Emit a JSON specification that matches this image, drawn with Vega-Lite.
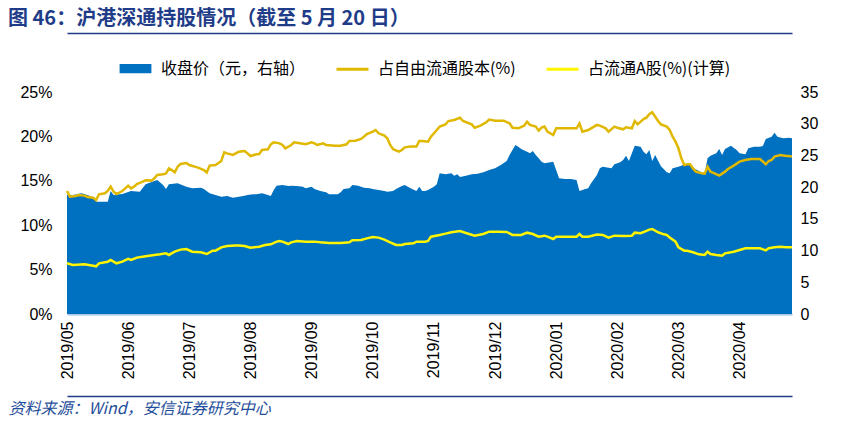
{
  "$schema": "https://vega.github.io/schema/vega-lite/v6.json",
  "width": 725,
  "height": 222,
  "autosize": {"type": "none"},
  "padding": {"left": 67, "top": 92, "right": 51, "bottom": 108},
  "background": "white",
  "title": {
    "text": "图 46：沪港深通持股情况（截至 5 月 20 日）",
    "anchor": "start",
    "frame": "group",
    "dx": -59,
    "font": "Noto Sans CJK SC",
    "fontSize": 20,
    "fontWeight": "bold",
    "color": "#1F3C88"
  },
  "config": {
    "view": {"stroke": null},
    "axis": {"grid": false, "ticks": false, "labelFont": "Liberation Sans", "labelFontSize": 16, "labelColor": "#000000"}
  },
  "datasets": {
    "price": [
      {"day":0,"v":18.76},{"day":2,"v":18.76},{"day":5,"v":19.02},{"day":7,"v":18.76},{"day":9,"v":18.39},{"day":10,"v":17.71},{"day":14,"v":17.71},{"day":15,"v":19.39},{"day":16,"v":18.76},{"day":19,"v":18.92},{"day":22,"v":19.39},{"day":25,"v":19.29},{"day":27,"v":20.44},{"day":30,"v":20.97},{"day":31,"v":21.13},{"day":33,"v":20.34},{"day":34,"v":19.71},{"day":35,"v":20.44},{"day":38,"v":20.60},{"day":41,"v":20.07},{"day":43,"v":19.81},{"day":46,"v":19.92},{"day":47,"v":19.71},{"day":49,"v":19.02},{"day":51,"v":18.76},{"day":53,"v":18.50},{"day":55,"v":18.60},{"day":57,"v":18.34},{"day":59,"v":18.50},{"day":61,"v":18.66},{"day":62,"v":18.76},{"day":64,"v":18.86},{"day":65,"v":18.86},{"day":67,"v":19.02},{"day":69,"v":18.76},{"day":70,"v":18.60},{"day":71,"v":19.55},{"day":72,"v":20.23},{"day":74,"v":20.34},{"day":76,"v":20.18},{"day":77,"v":20.23},{"day":79,"v":20.18},{"day":81,"v":20.07},{"day":82,"v":19.81},{"day":84,"v":20.07},{"day":85,"v":19.71},{"day":87,"v":19.39},{"day":89,"v":19.18},{"day":90,"v":18.86},{"day":93,"v":18.86},{"day":94,"v":19.18},{"day":95,"v":19.71},{"day":97,"v":19.81},{"day":98,"v":20.34},{"day":100,"v":20.23},{"day":102,"v":19.92},{"day":104,"v":19.81},{"day":105,"v":19.71},{"day":107,"v":19.55},{"day":109,"v":19.39},{"day":110,"v":19.29},{"day":112,"v":19.39},{"day":113,"v":19.71},{"day":115,"v":20.18},{"day":116,"v":20.34},{"day":118,"v":19.81},{"day":120,"v":19.39},{"day":121,"v":20.07},{"day":122,"v":19.39},{"day":123,"v":19.39},{"day":124,"v":19.55},{"day":126,"v":20.07},{"day":127,"v":20.44},{"day":128,"v":22.18},{"day":130,"v":22.02},{"day":132,"v":22.18},{"day":133,"v":21.81},{"day":134,"v":22.02},{"day":135,"v":21.60},{"day":137,"v":21.81},{"day":139,"v":22.02},{"day":141,"v":22.12},{"day":143,"v":22.34},{"day":145,"v":22.70},{"day":147,"v":22.96},{"day":149,"v":23.49},{"day":151,"v":24.12},{"day":152,"v":25.06},{"day":154,"v":26.64},{"day":155,"v":26.38},{"day":156,"v":26.01},{"day":158,"v":25.59},{"day":159,"v":25.33},{"day":160,"v":25.70},{"day":161,"v":25.06},{"day":162,"v":24.54},{"day":163,"v":24.01},{"day":164,"v":23.75},{"day":167,"v":24.01},{"day":168,"v":22.70},{"day":169,"v":21.39},{"day":171,"v":21.28},{"day":173,"v":21.28},{"day":175,"v":21.13},{"day":176,"v":19.39},{"day":178,"v":19.71},{"day":179,"v":19.81},{"day":180,"v":20.60},{"day":182,"v":21.91},{"day":183,"v":22.96},{"day":184,"v":23.23},{"day":186,"v":23.07},{"day":187,"v":22.96},{"day":188,"v":23.60},{"day":190,"v":23.91},{"day":191,"v":24.28},{"day":192,"v":24.96},{"day":193,"v":24.12},{"day":194,"v":25.33},{"day":195,"v":26.54},{"day":197,"v":26.38},{"day":198,"v":25.59},{"day":199,"v":25.17},{"day":200,"v":25.86},{"day":201,"v":24.12},{"day":202,"v":25.06},{"day":204,"v":23.30},{"day":206,"v":22.34},{"day":207,"v":22.18},{"day":208,"v":22.96},{"day":210,"v":23.23},{"day":211,"v":23.39},{"day":212,"v":23.60},{"day":214,"v":23.75},{"day":215,"v":23.07},{"day":217,"v":22.55},{"day":218,"v":22.34},{"day":219,"v":22.18},{"day":220,"v":24.54},{"day":221,"v":24.96},{"day":223,"v":25.33},{"day":224,"v":26.01},{"day":225,"v":25.06},{"day":226,"v":26.01},{"day":228,"v":26.54},{"day":230,"v":25.86},{"day":231,"v":25.33},{"day":233,"v":25.17},{"day":234,"v":26.12},{"day":236,"v":26.38},{"day":238,"v":26.38},{"day":239,"v":26.49},{"day":240,"v":27.59},{"day":242,"v":27.95},{"day":243,"v":28.59},{"day":244,"v":27.95},{"day":246,"v":27.70},{"day":248,"v":27.80},{"day":249,"v":27.70}
    ],
    "free": [
      {"day":0,"v":13.85},{"day":1,"v":13.21},{"day":3,"v":13.29},{"day":4,"v":13.40},{"day":6,"v":13.33},{"day":7,"v":13.18},{"day":9,"v":13.10},{"day":10,"v":12.84},{"day":11,"v":13.48},{"day":13,"v":13.59},{"day":14,"v":13.85},{"day":15,"v":14.34},{"day":16,"v":13.78},{"day":17,"v":13.51},{"day":19,"v":13.85},{"day":20,"v":14.15},{"day":21,"v":14.45},{"day":22,"v":14.15},{"day":23,"v":14.34},{"day":24,"v":14.64},{"day":26,"v":14.90},{"day":27,"v":15.05},{"day":29,"v":15.02},{"day":30,"v":15.28},{"day":31,"v":15.65},{"day":33,"v":15.73},{"day":34,"v":15.84},{"day":35,"v":16.40},{"day":36,"v":16.22},{"day":37,"v":15.95},{"day":38,"v":16.59},{"day":39,"v":16.89},{"day":41,"v":17.00},{"day":42,"v":16.78},{"day":45,"v":16.48},{"day":47,"v":16.22},{"day":48,"v":15.95},{"day":49,"v":16.71},{"day":51,"v":16.78},{"day":53,"v":17.23},{"day":54,"v":18.21},{"day":55,"v":18.09},{"day":57,"v":17.91},{"day":59,"v":18.28},{"day":61,"v":18.36},{"day":62,"v":18.09},{"day":63,"v":17.79},{"day":65,"v":17.98},{"day":66,"v":18.02},{"day":67,"v":18.47},{"day":69,"v":18.55},{"day":70,"v":19.11},{"day":71,"v":19.33},{"day":73,"v":19.22},{"day":74,"v":19.03},{"day":75,"v":18.66},{"day":77,"v":19.03},{"day":78,"v":19.33},{"day":80,"v":19.22},{"day":82,"v":19.11},{"day":84,"v":19.33},{"day":85,"v":19.22},{"day":86,"v":19.03},{"day":88,"v":19.22},{"day":89,"v":19.03},{"day":92,"v":18.96},{"day":94,"v":18.96},{"day":96,"v":19.11},{"day":97,"v":19.48},{"day":99,"v":19.52},{"day":101,"v":19.71},{"day":102,"v":19.97},{"day":103,"v":20.27},{"day":105,"v":20.53},{"day":106,"v":20.72},{"day":107,"v":20.35},{"day":109,"v":20.08},{"day":110,"v":19.78},{"day":111,"v":19.03},{"day":112,"v":18.55},{"day":114,"v":18.28},{"day":115,"v":18.47},{"day":116,"v":18.77},{"day":118,"v":18.85},{"day":120,"v":18.85},{"day":121,"v":19.48},{"day":122,"v":19.48},{"day":124,"v":19.41},{"day":125,"v":19.97},{"day":127,"v":20.72},{"day":128,"v":21.10},{"day":130,"v":21.36},{"day":131,"v":21.73},{"day":133,"v":21.85},{"day":135,"v":22.11},{"day":136,"v":21.73},{"day":139,"v":21.36},{"day":140,"v":20.98},{"day":142,"v":21.21},{"day":144,"v":21.59},{"day":145,"v":21.89},{"day":147,"v":21.77},{"day":150,"v":21.77},{"day":152,"v":21.47},{"day":153,"v":20.98},{"day":155,"v":20.91},{"day":157,"v":21.21},{"day":158,"v":21.66},{"day":159,"v":21.29},{"day":161,"v":21.10},{"day":162,"v":20.65},{"day":163,"v":20.98},{"day":164,"v":21.10},{"day":165,"v":20.53},{"day":167,"v":20.16},{"day":168,"v":20.91},{"day":171,"v":20.91},{"day":173,"v":20.91},{"day":175,"v":20.91},{"day":176,"v":21.47},{"day":177,"v":20.53},{"day":179,"v":20.72},{"day":180,"v":20.91},{"day":182,"v":21.29},{"day":183,"v":21.21},{"day":185,"v":20.91},{"day":186,"v":20.53},{"day":188,"v":21.10},{"day":189,"v":20.98},{"day":191,"v":20.80},{"day":192,"v":21.02},{"day":194,"v":20.91},{"day":195,"v":21.73},{"day":196,"v":21.36},{"day":198,"v":21.96},{"day":199,"v":22.11},{"day":200,"v":22.49},{"day":201,"v":22.71},{"day":203,"v":21.73},{"day":204,"v":21.36},{"day":206,"v":21.10},{"day":207,"v":20.72},{"day":208,"v":19.97},{"day":209,"v":19.41},{"day":210,"v":18.66},{"day":211,"v":17.53},{"day":212,"v":16.78},{"day":213,"v":16.86},{"day":214,"v":16.86},{"day":215,"v":16.40},{"day":216,"v":16.03},{"day":218,"v":15.84},{"day":219,"v":15.80},{"day":220,"v":16.59},{"day":221,"v":16.03},{"day":222,"v":15.88},{"day":224,"v":15.58},{"day":226,"v":16.03},{"day":227,"v":16.33},{"day":229,"v":16.71},{"day":231,"v":17.16},{"day":233,"v":17.34},{"day":235,"v":17.46},{"day":238,"v":17.46},{"day":240,"v":16.86},{"day":241,"v":17.23},{"day":242,"v":17.34},{"day":243,"v":17.72},{"day":245,"v":17.91},{"day":247,"v":17.79},{"day":248,"v":17.79},{"day":249,"v":17.72}
    ],
    "ashare": [
      {"day":0,"v":5.71},{"day":2,"v":5.52},{"day":6,"v":5.59},{"day":9,"v":5.44},{"day":10,"v":5.37},{"day":11,"v":5.71},{"day":14,"v":5.89},{"day":15,"v":6.08},{"day":17,"v":5.71},{"day":19,"v":5.89},{"day":21,"v":6.20},{"day":22,"v":6.08},{"day":24,"v":6.35},{"day":27,"v":6.50},{"day":30,"v":6.65},{"day":32,"v":6.72},{"day":34,"v":6.83},{"day":35,"v":6.65},{"day":37,"v":7.02},{"day":39,"v":7.25},{"day":41,"v":7.32},{"day":43,"v":7.02},{"day":46,"v":6.95},{"day":48,"v":6.76},{"day":50,"v":7.13},{"day":51,"v":7.13},{"day":53,"v":7.51},{"day":55,"v":7.66},{"day":58,"v":7.70},{"day":59,"v":7.70},{"day":61,"v":7.66},{"day":63,"v":7.47},{"day":66,"v":7.58},{"day":68,"v":7.77},{"day":70,"v":7.85},{"day":72,"v":8.15},{"day":73,"v":8.22},{"day":74,"v":8.15},{"day":76,"v":7.88},{"day":77,"v":8.07},{"day":79,"v":8.22},{"day":82,"v":8.15},{"day":85,"v":8.15},{"day":87,"v":8.07},{"day":90,"v":8.00},{"day":94,"v":8.00},{"day":97,"v":8.07},{"day":98,"v":8.30},{"day":101,"v":8.33},{"day":103,"v":8.52},{"day":105,"v":8.67},{"day":107,"v":8.60},{"day":109,"v":8.37},{"day":111,"v":8.07},{"day":113,"v":7.77},{"day":115,"v":7.77},{"day":116,"v":7.88},{"day":119,"v":7.96},{"day":120,"v":8.15},{"day":123,"v":8.15},{"day":124,"v":8.22},{"day":125,"v":8.71},{"day":128,"v":8.90},{"day":130,"v":9.05},{"day":132,"v":9.20},{"day":135,"v":9.35},{"day":137,"v":9.12},{"day":140,"v":8.82},{"day":143,"v":9.01},{"day":145,"v":9.27},{"day":148,"v":9.27},{"day":151,"v":9.24},{"day":153,"v":8.90},{"day":156,"v":8.90},{"day":158,"v":9.16},{"day":160,"v":9.01},{"day":162,"v":8.71},{"day":164,"v":8.82},{"day":165,"v":8.71},{"day":167,"v":8.45},{"day":168,"v":8.71},{"day":171,"v":8.71},{"day":175,"v":8.71},{"day":176,"v":9.01},{"day":177,"v":8.71},{"day":179,"v":8.71},{"day":182,"v":8.94},{"day":184,"v":8.90},{"day":186,"v":8.60},{"day":188,"v":8.82},{"day":191,"v":8.79},{"day":194,"v":8.82},{"day":195,"v":9.16},{"day":197,"v":9.09},{"day":199,"v":9.35},{"day":200,"v":9.50},{"day":201,"v":9.57},{"day":203,"v":9.20},{"day":205,"v":8.97},{"day":206,"v":8.90},{"day":207,"v":8.60},{"day":209,"v":8.15},{"day":210,"v":7.51},{"day":212,"v":7.13},{"day":213,"v":7.13},{"day":215,"v":6.95},{"day":217,"v":6.72},{"day":219,"v":6.65},{"day":220,"v":7.02},{"day":221,"v":6.76},{"day":223,"v":6.65},{"day":225,"v":6.57},{"day":226,"v":6.83},{"day":229,"v":7.02},{"day":231,"v":7.21},{"day":233,"v":7.40},{"day":236,"v":7.40},{"day":238,"v":7.40},{"day":240,"v":7.17},{"day":241,"v":7.40},{"day":243,"v":7.51},{"day":245,"v":7.58},{"day":247,"v":7.51},{"day":249,"v":7.51}
    ]
  },
  "layer": [
    {
      "data": {"name": "price"},
      "mark": {"type": "area", "opacity": 1, "interpolate": "linear"},
      "encoding": {
        "x": {
          "field": "day", "type": "quantitative",
          "scale": {"domain": [0, 249], "nice": false, "zero": false},
          "axis": {
            "orient": "bottom", "title": null,
            "values": [0, 21, 42, 63, 84, 105, 126, 147, 168, 189, 210, 231],
            "labelExpr": "['2019/05','2019/06','2019/07','2019/08','2019/09','2019/10','2019/11','2019/12','2020/01','2020/02','2020/03','2020/04'][round(datum.value/21)]",
            "labelAngle": 270, "labelPadding": 7, "labelOverlap": false, "labelBound": false, "labelFlush": false,
            "domainColor": "#A9C4E6", "domainWidth": 2
          }
        },
        "y": {
          "field": "v", "type": "quantitative",
          "scale": {"domain": [0, 35], "nice": false},
          "axis": {"orient": "right", "title": null, "values": [0, 5, 10, 15, 20, 25, 30, 35], "domain": false, "labelPadding": 8}
        },
        "color": {
          "datum": "收盘价（元，右轴）", "type": "nominal",
          "scale": {"domain": ["收盘价（元，右轴）", "占自由流通股本(%)", "占流通A股(%)(计算)"], "range": ["#0070C0", "#E0B800", "#FFF500"]},
          "legend": {
            "orient": "none", "legendX": 51, "legendY": -41,
            "direction": "horizontal", "title": null,
            "labelFont": "Noto Sans CJK SC", "labelFontSize": 16, "labelColor": "#000000",
            "symbolSize": 1024, "columnPadding": 24, "labelOffset": 8,
            "symbolType": {"expr": "datum.index === 0 ? 'M-0.9,-0.2H0.9V0.2H-0.9Z' : 'stroke'"},
            "symbolStrokeWidth": 3,
            "symbolOpacity": 1
          }
        }
      }
    },
    {
      "data": {"name": "free"},
      "mark": {"type": "line", "strokeWidth": 2.5},
      "encoding": {
        "x": {
          "field": "day", "type": "quantitative",
          "scale": {"domain": [0, 249], "nice": false, "zero": false},
          "axis": {"orient": "top", "offset": 59, "labels": false, "values": [], "title": null, "domainColor": "#1F3C88", "domainWidth": 1.5}
        },
        "y": {
          "field": "v", "type": "quantitative",
          "scale": {"domain": [0, 25], "nice": false},
          "axis": {"orient": "left", "title": null, "values": [0, 5, 10, 15, 20, 25], "labelExpr": "datum.value + '%'", "domain": false, "labelPadding": 15}
        },
        "color": {"datum": "占自由流通股本(%)", "type": "nominal"}
      }
    },
    {
      "data": {"name": "ashare"},
      "mark": {"type": "line", "strokeWidth": 2.5},
      "encoding": {
        "x": {
          "field": "day", "type": "quantitative",
          "scale": {"domain": [0, 249], "nice": false, "zero": false},
          "axis": {
            "orient": "bottom", "offset": 82, "labels": false, "values": [],
            "domainColor": "#1F3C88", "domainWidth": 1.5,
            "title": "资料来源：Wind，安信证券研究中心",
            "titleFont": "Noto Sans CJK SC", "titleFontStyle": "italic", "titleFontWeight": "normal",
            "titleFontSize": 16, "titleColor": "#1F4E9A",
            "titleAnchor": "start", "titleAlign": "left", "titleBaseline": "middle",
            "titleX": -59, "titleY": 12
          }
        },
        "y": {
          "field": "v", "type": "quantitative",
          "scale": {"domain": [0, 25], "nice": false},
          "axis": null
        },
        "color": {"datum": "占流通A股(%)(计算)", "type": "nominal"}
      }
    }
  ],
  "resolve": {"scale": {"y": "independent"}, "axis": {"x": "independent", "y": "independent"}}
}
